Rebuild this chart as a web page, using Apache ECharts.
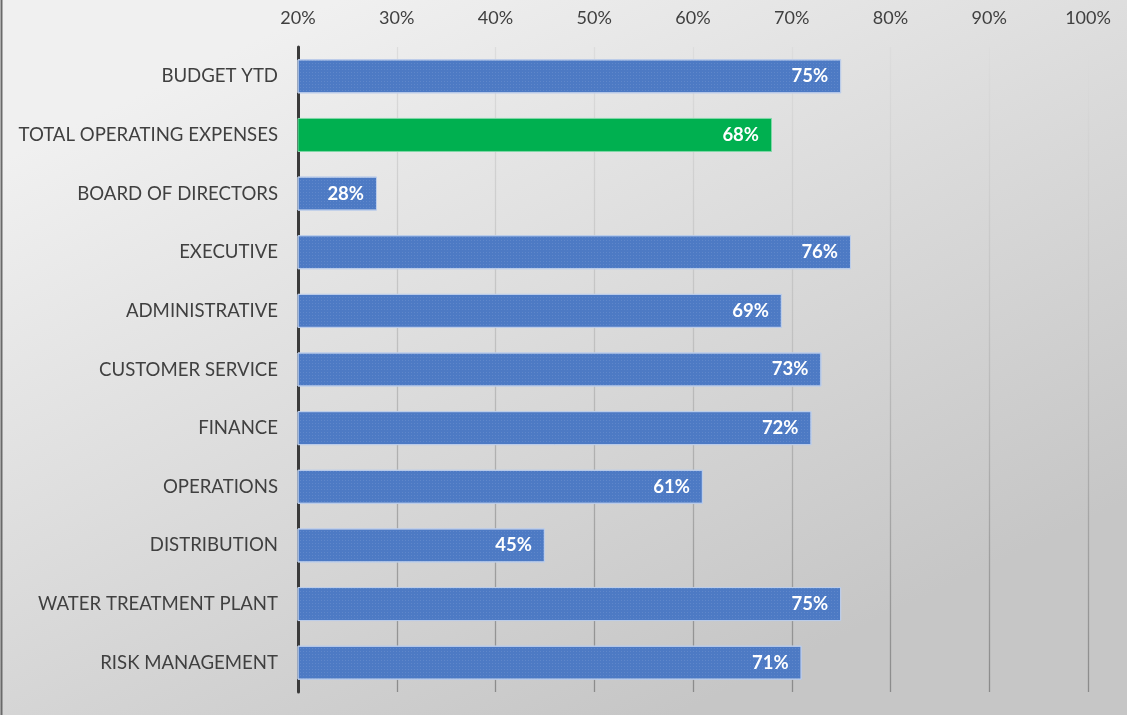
<!DOCTYPE html>
<html>
<head>
<meta charset="utf-8">
<script src="https://cdn.jsdelivr.net/npm/echarts@6/dist/echarts.min.js"></script>
<style>
  html, body { margin: 0; padding: 0; }
  #chart { width: 1127px; height: 715px; }
</style>
</head>
<body>
<div id="chart"></div>
<script>
// Departments, top to bottom
const categories = [
  'BUDGET YTD',
  'TOTAL OPERATING EXPENSES',
  'BOARD OF DIRECTORS',
  'EXECUTIVE',
  'ADMINISTRATIVE',
  'CUSTOMER SERVICE',
  'FINANCE',
  'OPERATIONS',
  'DISTRIBUTION',
  'WATER TREATMENT PLANT',
  'RISK MANAGEMENT'
];
// Percent of budget used
const values = [75, 68, 28, 76, 69, 73, 72, 61, 45, 75, 71];
// Row that is highlighted in green
const highlightCategory = 'TOTAL OPERATING EXPENSES';

const blueStyle = {
  color: '#4d7ac4',
  borderColor: '#bccdea',
  borderWidth: 1,
  decal: {
    symbol: 'rect',
    symbolSize: 1,
    color: 'rgba(255,255,255,0.10)',
    dashArrayX: [1, 2],
    dashArrayY: [1, 2],
    rotation: 0
  }
};
const greenStyle = { color: '#00b050', borderColor: '#7fd8a7', borderWidth: 1 };

const barData = values.map((v, i) => ({
  value: v,
  itemStyle: categories[i] === highlightCategory ? greenStyle : blueStyle
}));

const chart = echarts.init(document.getElementById('chart'), null, { renderer: 'canvas' });
chart.setOption({
  animation: false,
  backgroundColor: {
    type: 'linear', x: 0.3, y: 0, x2: 0.6, y2: 1,
    colorStops: [
      { offset: 0, color: '#f0f0f0' },
      { offset: 1, color: '#c6c6c6' }
    ]
  },
  textStyle: { fontFamily: 'Lato, "Open Sans", sans-serif' },
  graphic: [{
    type: 'line',
    shape: { x1: 1.5, y1: 0, x2: 1.5, y2: 715 },
    style: { stroke: '#6a6a6a', lineWidth: 2 }
  }],
  grid: { left: 298, right: 39, top: 47, bottom: 23, containLabel: false },
  xAxis: {
    type: 'value',
    position: 'top',
    min: 20,
    max: 100,
    interval: 10,
    axisLine: { show: false },
    axisTick: { show: false },
    axisLabel: {
      formatter: '{value}%',
      color: '#404040',
      fontSize: 18,
      margin: 20
    },
    splitLine: {
      show: true,
      lineStyle: {
        width: 1.3,
        color: {
          type: 'linear', x: 0, y: 0, x2: 0, y2: 1,
          colorStops: [
            { offset: 0, color: '#dddddd' },
            { offset: 0.5, color: '#bdbdbd' },
            { offset: 1, color: '#8a8a8a' }
          ]
        }
      }
    }
  },
  yAxis: {
    type: 'category',
    inverse: true,
    data: categories,
    axisLine: { show: true, lineStyle: { color: '#3a3a3a', width: 3 } },
    axisTick: { show: false },
    axisLabel: { color: '#404040', fontSize: 18.6, margin: 20 }
  },
  series: [{
    type: 'bar',
    data: barData,
    barCategoryGap: '42%',
    label: {
      show: true,
      position: 'insideRight',
      distance: 13,
      formatter: '{c}%',
      color: '#ffffff',
      fontWeight: 'bold',
      fontSize: 18.5
    }
  }]
});
</script>
</body>
</html>
